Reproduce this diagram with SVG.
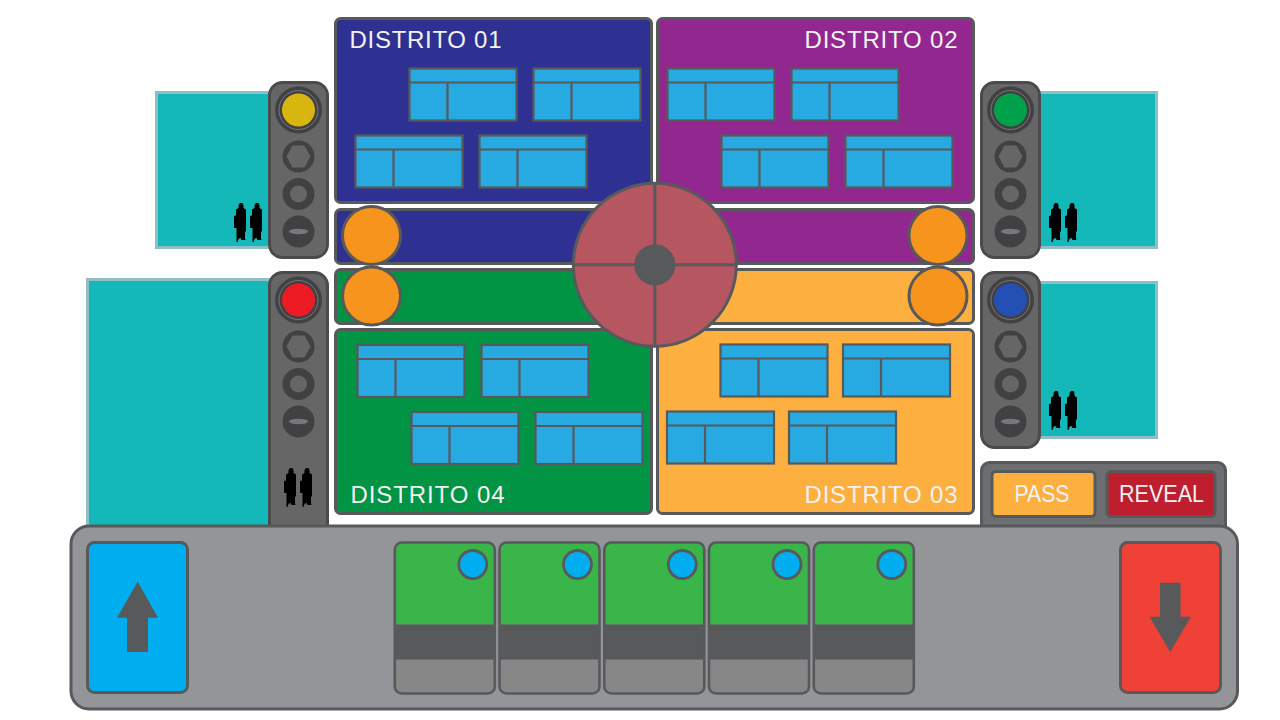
<svg xmlns="http://www.w3.org/2000/svg" xmlns:xlink="http://www.w3.org/1999/xlink" width="1280" height="720" viewBox="0 0 1280 720">
<style>
.s{stroke:#58595b;stroke-width:3}
.d{stroke:#58595b;stroke-width:3;rx:5px}
.teal{fill:#14b8b8;stroke:#8fbfc4;stroke-width:3}
.sig{fill:#666667;stroke:#4b4b4d;stroke-width:3}
.dk{fill:#414042}
.lt{fill:#666667}
.orange{fill:#f7941e;stroke:#58595b;stroke-width:3}
.tb{fill:#27aae1;stroke:#58595b;stroke-width:2.200}
.lbl{font-family:"Liberation Sans",sans-serif;font-size:24px;fill:#f1f2f2}
.card{fill:#39b54a}
</style>
<defs>
<g id="table">
<rect class="tb" x="0.500" y="1" width="107" height="52"/>
<path class="tb" fill="none" d="M0.500 15H107.500M38.500 15V53"/>
</g>
<g id="signal">
<circle class="dk" cx="0" cy="0" r="23.500"/>
<circle cx="0" cy="0" r="19.500" fill="none" stroke="#77787b" stroke-width="1"/>
<circle class="dk" cx="0" cy="46.500" r="16"/>
<polygon class="lt" points="-12,46.500 -6,35.500 6,35.500 12,46.500 6,57.500 -6,57.500"/>
<circle class="dk" cx="0" cy="84" r="16"/>
<circle class="lt" cx="0" cy="84" r="8.500"/>
<circle class="dk" cx="0" cy="121.500" r="16"/>
<ellipse cx="0" cy="121.500" rx="9.500" ry="2.700" fill="#77787b"/>
</g>
<g id="people">
<path id="man" d="M238.500 205L240 203H242.500L243.500 205V208L246 209.500V231L245 232V238L245.500 240H241.500L240.500 238H240L238.500 239L237.500 242H236.500V228H234V216L236 215.500V209.500L238.500 208Z" fill="#000"/>
<use xlink:href="#man" href="#man" x="16"/>
</g>
<g id="card">
<rect x="0" y="0" width="100" height="151" rx="7" fill="#878787"/>
<path class="card" d="M0 82V7a7 7 0 0 1 7-7H93a7 7 0 0 1 7 7V82Z"/>
<rect x="0" y="82" width="100" height="35" fill="#58595b"/>
<rect x="0" y="0" width="100" height="151" rx="7" fill="none" stroke="#58595b" stroke-width="2.600"/>
<circle cx="78" cy="22" r="14" fill="#00aeef" stroke="#58595b" stroke-width="2.800"/>
</g>
</defs>

<g id="teal-panels">
<rect class="teal" x="156.500" y="92.500" width="125" height="155"/>
<rect class="teal" x="87.500" y="279.500" width="195" height="260"/>
<rect class="teal" x="1030" y="92.500" width="126.500" height="155"/>
<rect class="teal" x="1030" y="282.500" width="126.500" height="155"/>
</g>

<g id="people-groups">
<use xlink:href="#people" href="#people"/>
<use xlink:href="#people" href="#people" x="815"/>
<use xlink:href="#people" href="#people" x="815" y="188"/>
</g>

<g id="signal-yellow">
<rect class="sig" x="269.500" y="82.500" width="58" height="175" rx="13"/>
<use xlink:href="#signal" href="#signal" x="298.500" y="110"/>
<circle cx="298.500" cy="110" r="16.500" fill="#d9b50f"/>
</g>
<g id="signal-red">
<rect class="sig" x="269.500" y="272.500" width="58" height="270" rx="13"/>
<use xlink:href="#signal" href="#signal" x="298.500" y="300"/>
<circle cx="298.500" cy="300" r="16.500" fill="#ed1c24"/>
<use xlink:href="#people" href="#people" x="50" y="265"/>
</g>
<g id="signal-green">
<rect class="sig" x="981.500" y="82.500" width="58" height="175" rx="13"/>
<use xlink:href="#signal" href="#signal" x="1010.500" y="110"/>
<circle cx="1010.500" cy="110" r="16.500" fill="#00a14b"/>
</g>
<g id="signal-blue">
<rect class="sig" x="981.500" y="272.500" width="58" height="175" rx="13"/>
<use xlink:href="#signal" href="#signal" x="1010.500" y="300"/>
<circle cx="1010.500" cy="300" r="16.500" fill="#2450b5"/>
</g>

<g id="distrito-01">
<rect class="d" x="335.500" y="18.500" width="316" height="184" fill="#2e3192"/>
<rect class="d" x="335.500" y="209.500" width="316" height="54" fill="#2e3192"/>
<use xlink:href="#table" href="#table" x="409" y="67.500"/>
<use xlink:href="#table" href="#table" x="533" y="67.500"/>
<use xlink:href="#table" href="#table" x="355" y="134.500"/>
<use xlink:href="#table" href="#table" x="479" y="134.500"/>
<text class="lbl" x="349.500" y="48" textLength="152" lengthAdjust="spacing">DISTRITO 01</text>
</g>
<g id="distrito-02">
<rect class="d" x="657.500" y="18.500" width="316" height="184" fill="#92278f"/>
<rect class="d" x="657.500" y="209.500" width="316" height="54" fill="#92278f"/>
<use xlink:href="#table" href="#table" x="667" y="67.500"/>
<use xlink:href="#table" href="#table" x="791" y="67.500"/>
<use xlink:href="#table" href="#table" x="721" y="134.500"/>
<use xlink:href="#table" href="#table" x="845" y="134.500"/>
<text class="lbl" x="804.500" y="48" textLength="153" lengthAdjust="spacing">DISTRITO 02</text>
</g>
<g id="distrito-04">
<rect class="d" x="335.500" y="269.500" width="316" height="54" fill="#009444"/>
<rect class="d" x="335.500" y="329.500" width="316" height="184" fill="#009444"/>
<use xlink:href="#table" href="#table" x="357" y="344"/>
<use xlink:href="#table" href="#table" x="481" y="344"/>
<use xlink:href="#table" href="#table" x="411" y="411"/>
<use xlink:href="#table" href="#table" x="535" y="411"/>
<text class="lbl" x="350.500" y="503" textLength="154" lengthAdjust="spacing">DISTRITO 04</text>
</g>
<g id="distrito-03">
<rect class="d" x="657.500" y="269.500" width="316" height="54" fill="#fdb040"/>
<rect class="d" x="657.500" y="329.500" width="316" height="184" fill="#fdb040"/>
<use xlink:href="#table" href="#table" x="720" y="343.500"/>
<use xlink:href="#table" href="#table" x="842.500" y="343.500"/>
<use xlink:href="#table" href="#table" x="666.500" y="410.500"/>
<use xlink:href="#table" href="#table" x="788.500" y="410.500"/>
<text class="lbl" x="804.500" y="503" textLength="153" lengthAdjust="spacing">DISTRITO 03</text>
</g>

<g id="orange-circles">
<circle class="orange" cx="371.500" cy="235.500" r="29"/>
<circle class="orange" cx="371.500" cy="296" r="29"/>
<circle class="orange" cx="938" cy="235.500" r="29"/>
<circle class="orange" cx="938" cy="296" r="29"/>
</g>

<g id="centre-wheel">
<circle class="s" cx="654.800" cy="264.800" r="81.500" fill="#b55661"/>
<path class="s" fill="none" d="M654.800 183V346.500M573 264.800H736.500"/>
<circle cx="654.800" cy="264.800" r="20.500" fill="#58595b"/>
</g>

<g id="pass-reveal">
<rect x="981.500" y="462.500" width="244" height="90" rx="8" fill="#6d6e71" stroke="#58595b" stroke-width="3"/>
<g id="pass">
<rect class="s" x="992" y="471.500" width="103" height="45" rx="4" fill="#fdb040"/>
<text class="lbl" x="1014.500" y="502" textLength="55" lengthAdjust="spacingAndGlyphs">PASS</text>
</g>
<g id="reveal">
<rect class="s" x="1107" y="471.500" width="108" height="45" rx="4" fill="#be1e2d"/>
<text class="lbl" x="1119" y="502" textLength="85" lengthAdjust="spacingAndGlyphs">REVEAL</text>
</g>
</g>

<g id="bottom-bar">
<rect x="71" y="526" width="1166.500" height="183" rx="18" fill="#939598" stroke="#58595b" stroke-width="3"/>
</g>
<g id="up-button">
<rect class="s" x="87.500" y="542.500" width="100" height="150" rx="7" fill="#00aeef"/>
<path d="M137.700 581.700L158 617.700H148V652H127V617.700H117Z" fill="#58595b"/>
</g>
<g id="down-button">
<rect class="s" x="1120.500" y="542.500" width="100" height="150" rx="7" fill="#ef4136"/>
<path d="M1160 582.700H1180.500V616.700H1191L1170.200 652L1149.500 616.700H1160Z" fill="#58595b"/>
</g>
<g id="card-1"><use xlink:href="#card" href="#card" x="394.800" y="542.500"/></g>
<g id="card-2"><use xlink:href="#card" href="#card" x="499.500" y="542.500"/></g>
<g id="card-3"><use xlink:href="#card" href="#card" x="604.300" y="542.500"/></g>
<g id="card-4"><use xlink:href="#card" href="#card" x="709" y="542.500"/></g>
<g id="card-5"><use xlink:href="#card" href="#card" x="813.800" y="542.500"/></g>
</svg>
